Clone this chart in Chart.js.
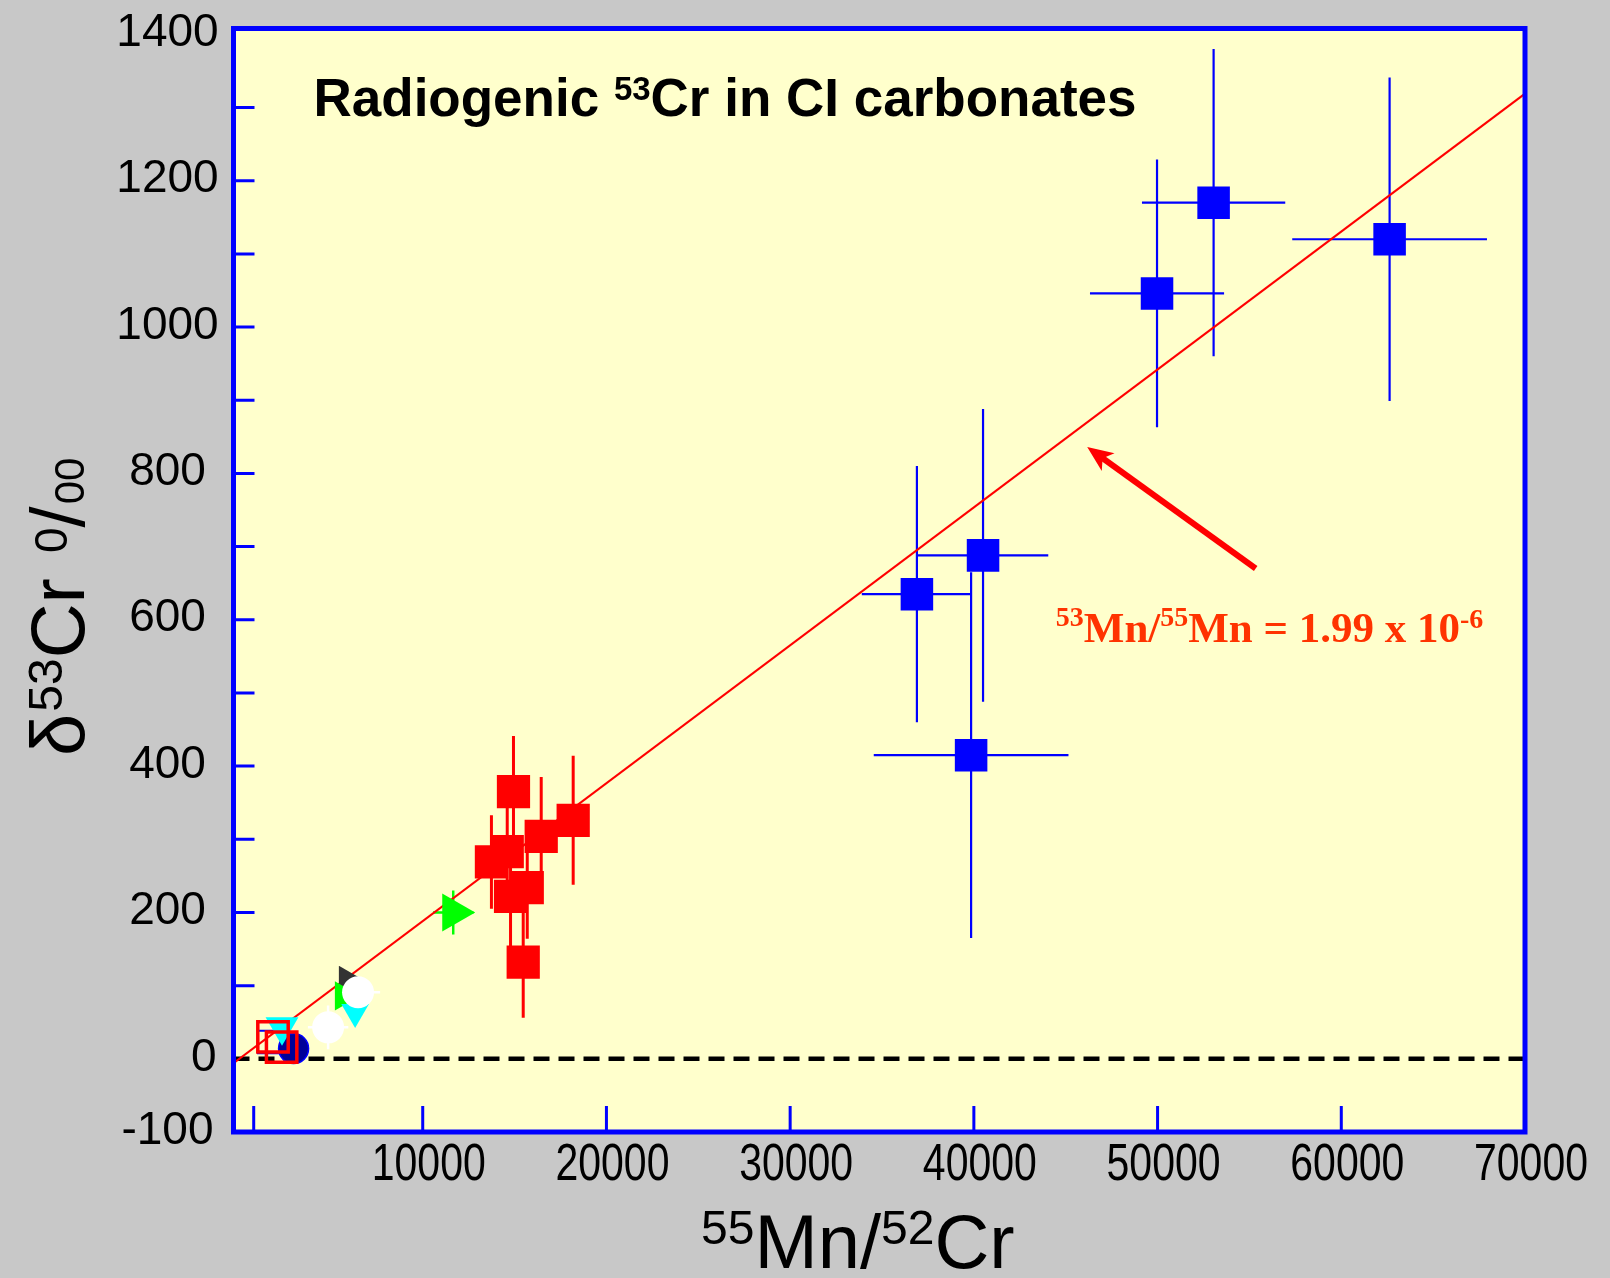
<!DOCTYPE html>
<html>
<head>
<meta charset="utf-8">
<script src="https://cdn.jsdelivr.net/npm/chart.js@4.4.1/dist/chart.umd.min.js"></script>
<style>
  html, body { margin: 0; padding: 0; background: #c8c8c8; }
  canvas { display: block; }
</style>
</head>
<body>
<canvas id="chart" width="1610" height="1278"></canvas>
<script>
// ---- Carbonate separates (filled blue squares, errors in both directions) ----
const carbMnCr   = [36900, 40500, 39850, 49970, 53050, 62630];
const carbDelta  = [635, 688, 415, 1046, 1170, 1120];
const carbMnErr  = [3000, 3550, 5300, 3650, 3900, 5300];
const carbDelErr = [175, 200, 250, 183, 210, 221];

// ---- Dolomite / breunnerite grains (filled red squares) ----
const grainMnCr   = [14940, 18190, 16450, 14600, 13740, 15690, 14780, 15470];
const grainDelta  = [365, 326, 304, 283, 269, 234, 222, 132];
const grainDelErr = [76, 88, 81, 60, 64, 70, 70, 76];

// ---- Low Mn/Cr fractions near the origin ----
const openBlueMnCr = [1650];        const openBlueDelta = [23];
const openRedMnCr  = [1850, 2320];  const openRedDelta  = [30, 16];
const navyMnCr     = [2970];        const navyDelta     = [14];
const cyanMnCr     = [2340, 6320];  const cyanDelta     = [44, 64];
const whiteMnCr    = [4850, 6480];  const whiteDelta    = [43, 91];
const whiteMnErr   = [1100, 1200];  const whiteDelErr   = [30, 0];
const darkMnCr     = [5900];        const darkDelta     = [107];
const greenMnCr    = [11660, 5680]; const greenDelta    = [200, 86];
const greenMnErr   = [1100, 0];     const greenDelErr   = [30, 0];

// ---- Isochron (slope from 53Mn/55Mn = 1.99e-6) and zero reference ----
const isoMnCr  = [-300, 70000];
const isoDelta = [-6, 1319];
const zeroMnCr  = [-300, 70000];
const zeroDelta = [0, 0];

// ---- Axis ticks and labels ----
const xTickMarks  = [800, 10000, 20000, 30000, 40000, 50000, 60000];
const xTickLabels = [10000, 20000, 30000, 40000, 50000, 60000, 70000];
const yTickMarks  = [100, 200, 300, 400, 500, 600, 700, 800, 900, 1000, 1100, 1200, 1300];
const yTickLabels = [-100, 0, 200, 400, 600, 800, 1000, 1200, 1400];

// ---- Slope annotation (data units) ----
const arrowTail = { x: 55340, y: 670 };
const arrowTip  = { x: 46170, y: 836 };
const slopeLabelAt = { x: 44460, y: 569 };

const zip = (xs, ys) => xs.map((x, i) => ({ x, y: ys[i] }));

const SANS = "'Liberation Sans', Arial, Helvetica, sans-serif";
const SERIF = "'Liberation Serif', 'Times New Roman', serif";

function drawRich(ctx, parts, x, y) {
  let cx = x;
  for (const p of parts) {
    ctx.font = `${p.w || 'normal'} ${p.s}px ${p.f || SANS}`;
    ctx.fillText(p.t, cx, y - (p.r || 0));
    cx += ctx.measureText(p.t).width + (p.gap || 0);
  }
  return cx;
}

const backgroundPlugin = {
  id: 'panelBackground',
  beforeDraw(chart) {
    const { ctx, chartArea: a } = chart;
    ctx.save();
    ctx.fillStyle = '#c8c8c8';
    ctx.fillRect(0, 0, chart.width, chart.height);
    ctx.fillStyle = '#ffffcc';
    ctx.fillRect(a.left, a.top, a.right - a.left, a.bottom - a.top);
    ctx.restore();
  }
};

const errorBarPlugin = {
  id: 'errorBars',
  beforeDatasetsDraw(chart) {
    const { ctx, chartArea: a, scales: { x, y } } = chart;
    ctx.save();
    ctx.beginPath();
    ctx.rect(a.left, a.top, a.right - a.left, a.bottom - a.top);
    ctx.clip();
    chart.data.datasets.forEach(ds => {
      const eb = ds.errorBars;
      if (!eb) return;
      ctx.strokeStyle = eb.color;
      ctx.lineWidth = eb.width;
      ds.data.forEach((p, i) => {
        const px = x.getPixelForValue(p.x);
        const py = y.getPixelForValue(p.y);
        const ex = eb.x ? eb.x[i] : 0;
        const ey = eb.y ? eb.y[i] : 0;
        ctx.beginPath();
        if (ex) {
          ctx.moveTo(x.getPixelForValue(p.x - ex), py);
          ctx.lineTo(x.getPixelForValue(p.x + ex), py);
        }
        if (ey) {
          ctx.moveTo(px, y.getPixelForValue(p.y - ey));
          ctx.lineTo(px, y.getPixelForValue(p.y + ey));
        }
        ctx.stroke();
      });
    });
    ctx.restore();
  }
};

const framePlugin = {
  id: 'frameAndText',
  afterDraw(chart) {
    const { ctx, chartArea: a, scales: { x, y } } = chart;
    ctx.save();

    // inward tick marks
    ctx.strokeStyle = '#0000ff';
    ctx.lineWidth = 3;
    ctx.beginPath();
    yTickMarks.forEach(v => {
      const py = y.getPixelForValue(v);
      ctx.moveTo(a.left, py);
      ctx.lineTo(a.left + 21, py);
    });
    xTickMarks.forEach(v => {
      const px = x.getPixelForValue(v);
      ctx.moveTo(px, a.bottom);
      ctx.lineTo(px, a.bottom - 26);
    });
    ctx.stroke();

    // plot frame
    ctx.lineWidth = 5;
    ctx.strokeRect(a.left, a.top, a.right - a.left, a.bottom - a.top);

    // y tick labels: centred in the margin, the zero label sits against the frame
    ctx.fillStyle = '#000';
    ctx.textBaseline = 'middle';
    ctx.font = `46px ${SANS}`;
    yTickLabels.forEach(v => {
      const py = y.getPixelForValue(v) - 1;
      if (v === 0) {
        ctx.textAlign = 'right';
        ctx.fillText(String(v), a.left - 17, py);
      } else {
        ctx.textAlign = 'center';
        ctx.fillText(String(v), a.left - 66, py);
      }
    });

    // x tick labels (tall, narrow lettering)
    ctx.textAlign = 'center';
    ctx.font = `41px ${SANS}`;
    xTickLabels.forEach(v => {
      ctx.save();
      ctx.translate(x.getPixelForValue(v) + 6, a.bottom + 34);
      ctx.scale(1, 1.25);
      ctx.fillText(String(v), 0, 0);
      ctx.restore();
    });

    // title
    ctx.textAlign = 'left';
    ctx.textBaseline = 'alphabetic';
    drawRich(ctx, [
      { t: 'Radiogenic ', s: 53, w: 'bold' },
      { t: '53', s: 33, w: 'bold', r: 16 },
      { t: 'Cr in CI carbonates', s: 53, w: 'bold' }
    ], a.left + 80, 116);

    // x axis title
    drawRich(ctx, [
      { t: '55', s: 48, r: 24 },
      { t: 'Mn/', s: 76 },
      { t: '52', s: 48, r: 24 },
      { t: 'Cr', s: 76 }
    ], 701, 1268);

    // y axis title (rotated)
    ctx.save();
    ctx.translate(84, 756);
    ctx.rotate(-Math.PI / 2);
    drawRich(ctx, [
      { t: '\u03B4', s: 76, gap: 2 },
      { t: '53', s: 48, r: 22 },
      { t: 'Cr ', s: 76, gap: 4 },
      { t: '0', s: 46, r: 17 },
      { t: '/', s: 76, gap: 2 },
      { t: '00', s: 42 }
    ], 0, 0);
    ctx.restore();

    // slope annotation
    ctx.fillStyle = '#ff3300';
    drawRich(ctx, [
      { t: '53', s: 28, w: 'bold', r: 16, f: SERIF },
      { t: 'Mn/', s: 43, w: 'bold', f: SERIF },
      { t: '55', s: 28, w: 'bold', r: 16, f: SERIF },
      { t: 'Mn = 1.99 x 10', s: 43, w: 'bold', f: SERIF },
      { t: '-6', s: 28, w: 'bold', r: 14, f: SERIF }
    ], x.getPixelForValue(slopeLabelAt.x), y.getPixelForValue(slopeLabelAt.y));

    // arrow pointing at the isochron
    const tx = x.getPixelForValue(arrowTail.x), ty = y.getPixelForValue(arrowTail.y);
    const hx = x.getPixelForValue(arrowTip.x), hy = y.getPixelForValue(arrowTip.y);
    const ang = Math.atan2(hy - ty, hx - tx);
    ctx.strokeStyle = '#ff0000';
    ctx.lineWidth = 6;
    ctx.lineCap = 'butt';
    ctx.beginPath();
    ctx.moveTo(tx, ty);
    ctx.lineTo(hx - 8 * Math.cos(ang), hy - 8 * Math.sin(ang));
    ctx.stroke();
    ctx.fillStyle = '#ff0000';
    ctx.beginPath();
    ctx.moveTo(hx, hy);
    ctx.lineTo(hx - 28 * Math.cos(ang - 0.4), hy - 28 * Math.sin(ang - 0.4));
    ctx.lineTo(hx - 19 * Math.cos(ang), hy - 19 * Math.sin(ang));
    ctx.lineTo(hx - 28 * Math.cos(ang + 0.4), hy - 28 * Math.sin(ang + 0.4));
    ctx.closePath();
    ctx.fill();

    ctx.restore();
  }
};

const none = 'rgba(0,0,0,0)';

new Chart(document.getElementById('chart'), {
  type: 'scatter',
  data: {
    datasets: [
      { label: 'zero', data: zip(zeroMnCr, zeroDelta), showLine: true, pointRadius: 0,
        borderColor: '#000', borderWidth: 4.5, borderDash: [16, 9], order: 100 },
      { label: 'isochron', data: zip(isoMnCr, isoDelta), showLine: true, pointRadius: 0,
        borderColor: '#ff0000', borderWidth: 2, order: 90 },
      { label: 'carbonates', data: zip(carbMnCr, carbDelta), pointStyle: 'rect', pointRadius: 23,
        backgroundColor: '#0000ff', borderWidth: 0, order: 10,
        errorBars: { x: carbMnErr, y: carbDelErr, color: '#0000ff', width: 2.2 } },
      { label: 'grains', data: zip(grainMnCr, grainDelta), pointStyle: 'rect', pointRadius: 23.5,
        backgroundColor: '#ff0000', borderWidth: 0, order: 20,
        errorBars: { y: grainDelErr, color: '#ff0000', width: 3 } },
      { label: 'dark', data: zip(darkMnCr, darkDelta), pointStyle: 'triangle', pointRotation: 90,
        pointRadius: 17, backgroundColor: '#333333', borderWidth: 0, order: 60 },
      { label: 'openBlue', data: zip(openBlueMnCr, openBlueDelta), pointStyle: 'rect', pointRadius: 16,
        backgroundColor: none, borderColor: '#0000ff', borderWidth: 2, order: 58 },
      { label: 'green', data: zip(greenMnCr, greenDelta), pointStyle: 'triangle', pointRotation: 90,
        pointRadius: [22, 17], backgroundColor: '#00ff00', borderWidth: 0, order: 55,
        errorBars: { x: greenMnErr, y: greenDelErr, color: '#00ff00', width: 2.5 } },
      { label: 'navy', data: zip(navyMnCr, navyDelta), pointStyle: 'circle', pointRadius: 15,
        backgroundColor: '#000099', borderColor: '#0000ff', borderWidth: 1.5, order: 52 },
      { label: 'cyan', data: zip(cyanMnCr, cyanDelta), pointStyle: 'triangle', pointRotation: 180,
        pointRadius: [19, 16], backgroundColor: '#00ffff', borderWidth: 0, order: 50 },
      { label: 'white', data: zip(whiteMnCr, whiteDelta), pointStyle: 'circle', pointRadius: 16,
        backgroundColor: '#ffffff', borderWidth: 0, order: 45,
        errorBars: { x: whiteMnErr, y: whiteDelErr, color: '#ffffff', width: 2.5 } },
      { label: 'openRed', data: zip(openRedMnCr, openRedDelta), pointStyle: 'rect', pointRadius: 21.5,
        backgroundColor: none, borderColor: '#ff0000', borderWidth: 3.5, order: 30 }
    ]
  },
  options: {
    responsive: false,
    animation: false,
    events: [],
    layout: { padding: { top: 28.5, right: 85, bottom: 0, left: 0 } },
    plugins: { legend: { display: false }, tooltip: { enabled: false } },
    scales: {
      x: {
        type: 'linear', position: 'bottom', min: -300, max: 70000,
        grid: { display: false }, border: { display: false },
        ticks: { display: false },
        afterFit: s => { s.height = 146; }
      },
      y: {
        type: 'linear', position: 'left', min: -100, max: 1408,
        grid: { display: false }, border: { display: false },
        ticks: { display: false },
        afterFit: s => { s.width = 233.5; }
      }
    }
  },
  plugins: [backgroundPlugin, errorBarPlugin, framePlugin]
});
</script>
</body>
</html>
